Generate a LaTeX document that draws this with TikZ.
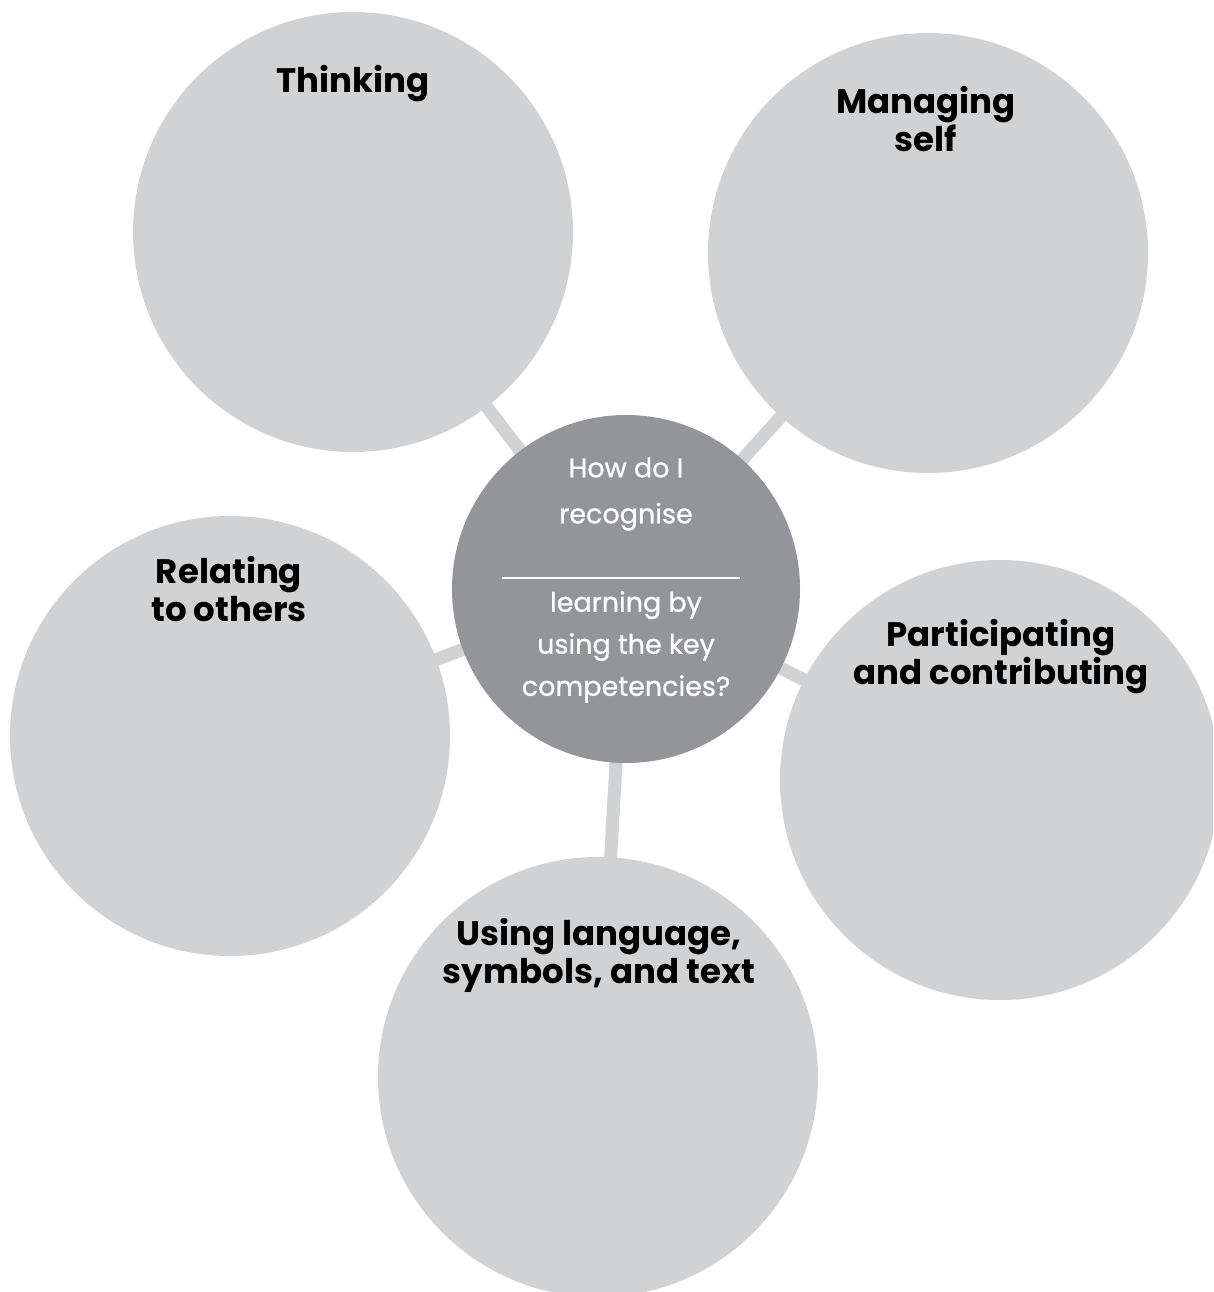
\documentclass[tikz,border=0pt]{standalone}
\usepackage{fontspec}
\setmainfont{Poppins}
\newfontfamily\hubfont[FakeBold=0.8]{Poppins}
\definecolor{outergray}{HTML}{D1D2D4}
\definecolor{centergray}{HTML}{939598}
\begin{document}
\begin{tikzpicture}[x=1pt,y=-1pt,
  outer/.style={circle,fill=outergray,minimum size=440pt,inner sep=0pt},
  hub/.style={circle,fill=centergray,minimum size=348pt,inner sep=0pt},
  link/.style={draw=outergray,line width=13pt},
  lbl/.style={font=\fontsize{34}{38}\selectfont\bfseries,align=center,text=black},
  hublbl/.style={font=\hubfont\fontsize{27}{42}\selectfont,align=center,text=white}]
\useasboundingbox (0,0) rectangle (1213,1292);
\clip (0,0) rectangle (1213,1292);
\coordinate (cT) at (353,232);
\coordinate (cM) at (928,253);
\coordinate (cR) at (230,736);
\coordinate (cP) at (1000,780);
\coordinate (cU) at (598,1077);
\coordinate (cH) at (626,589);
\draw[link] (cH) -- (cT);
\draw[link] (cH) -- (cM);
\draw[link] (cH) -- (cR);
\draw[link] (cH) -- (cP);
\draw[link] (cH) -- (cU);
\node[outer] (thinking) at (cT) {};
\node[outer] (managing) at (cM) {};
\node[outer] (relating) at (cR) {};
\node[outer] (participating) at (cP) {};
\node[outer] (using) at (cU) {};
\node[hub] (hub) at (cH) {};
\node[lbl] (tThinking) at (353,84) {Thinking};
\node[lbl] (tManaging) at (926,119) {Managing\\self};
\node[lbl] (tRelating) at (229,589) {Relating\\to others};
\node[lbl] (tParticipating) at (1001,657) {Participating\\and contributing};
\node[lbl] (tUsing) at (599,955) {Using language,\\symbols, and text};
\node[hublbl, font=\hubfont\fontsize{27}{46}\selectfont] (q1) at (626,494) {How do I\\recognise};
\node[hublbl] (q2) at (626,647) {learning by\\using the key\\competencies?};
\coordinate (sepL) at (502,578);
\coordinate (sepR) at (740,578);
\draw[white,line width=1.2pt] (sepL) -- (sepR);
\end{tikzpicture}
\end{document}
